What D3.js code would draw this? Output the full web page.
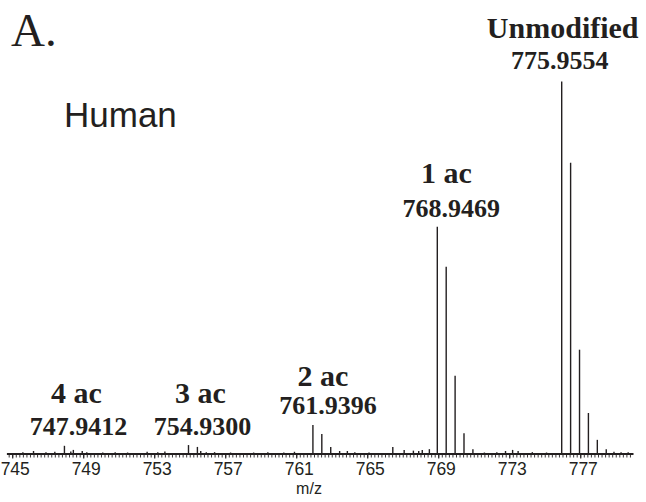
<!DOCTYPE html>
<html>
<head>
<meta charset="utf-8">
<script src="https://cdn.jsdelivr.net/npm/d3@7/dist/d3.min.js"></script>
<style>
  html, body { margin: 0; padding: 0; background: #fff; }
  svg { display: block; }
</style>
</head>
<body>
<svg id="chart" width="646" height="502"></svg>
<script>
// ---- data ----
const peakMz = [
  // 4 ac cluster
  747.9412, 748.443, 748.944,
  // 3 ac cluster
  754.9300, 755.432, 755.62, 755.933,
  // 2 ac cluster
  761.9396, 762.441, 762.943, 763.445,
  // 1 ac cluster
  768.9469, 769.448, 769.950, 770.451, 770.953,
  // unmodified cluster
  775.9554, 776.457, 776.959, 777.460, 777.962, 778.464,
  // noise
  745.6, 746.2, 746.9, 747.4, 748.3, 749.2, 750.1, 750.8, 751.5, 752.6, 753.2, 753.6,
  756.4, 757.3, 758.6, 759.4, 760.3, 760.9, 763.88, 764.3, 765.1,
  766.44, 767.08, 767.6, 767.9, 768.1, 768.5,
  771.6, 772.3, 772.79, 773.19, 773.5, 774.3, 775.1, 778.9, 779.3, 779.7
];
const peakIntensity = [
  2.2, 1.1, 0.8,
  2.4, 1.9, 0.8, 0.5,
  7.8, 5.4, 1.9, 0.8,
  61.0, 50.3, 21.0, 5.6, 1.3,
  100, 78.2, 28.0, 11.0, 3.8, 1.3,
  0.5, 0.8, 0.5, 0.6, 0.7, 0.5, 0.4, 0.5, 0.4, 0.6, 0.5, 0.7,
  0.5, 0.4, 0.4, 0.5, 0.4, 0.6, 0.8, 0.5, 0.4,
  1.9, 1.1, 0.9, 0.8, 1.1, 1.3,
  0.4, 0.5, 0.8, 1.1, 0.8, 0.5, 0.4, 0.6, 0.5, 0.5
];
const tickValues = [745, 749, 753, 757, 761, 765, 769, 773, 777];
const labelTitles = ["4 ac", "3 ac", "2 ac", "1 ac", "Unmodified"];
const labelMasses = ["747.9412", "754.9300", "761.9396", "768.9469", "775.9554"];
const labelMz = [747.9412, 754.9300, 761.9396, 768.9469, 775.9554];

// ---- layout ----
const ink = "#231f20";
const svg = d3.select("#chart");
const baseY = 454;
const x = d3.scaleLinear().domain([744.7, 780]).range([6.9, 633.5]);
const y = d3.scaleLinear().domain([0, 100]).range([baseY, 81.5]);

// peaks (sticks)
svg.append("g").selectAll("line")
  .data(peakMz.map((m, i) => ({ m, v: peakIntensity[i] })))
  .join("line")
  .attr("x1", d => x(d.m)).attr("x2", d => x(d.m))
  .attr("y1", y(0)).attr("y2", d => y(d.v))
  .attr("stroke", ink).attr("stroke-width", 1.4);

// axis with minor ticks
const minor = d3.range(744.8, 779.95, 0.2);
const axisG = svg.append("g").attr("transform", `translate(0,${baseY})`);
axisG.call(d3.axisBottom(x).tickValues(minor).tickSize(3.5).tickFormat(""))
  .call(g => g.select(".domain").remove())
  .selectAll("line").attr("stroke", ink).attr("stroke-width", 0.9);
const majorG = svg.append("g").attr("transform", `translate(0,${baseY})`);
majorG.call(d3.axisBottom(x).tickValues(tickValues).tickSize(4.5).tickPadding(4.5).tickFormat(d3.format("d")))
  .call(g => g.select(".domain").attr("stroke", ink).attr("stroke-width", 1.8)
      .attr("d", `M${x(744.7)},0H${x(780)}`))
  .call(g => g.selectAll("line").attr("stroke", ink).attr("stroke-width", 1.1))
  .call(g => g.selectAll("text")
      .attr("fill", ink)
      .attr("dx", 2.5)
      .style("font-family", "'Liberation Sans', Arial, sans-serif")
      .style("font-size", "17.5px"));

// axis title
svg.append("text").attr("x", 309).attr("y", 494).attr("text-anchor", "middle")
  .attr("fill", ink).style("font-family", "'Liberation Sans', Arial, sans-serif")
  .style("font-size", "16px").text("m/z");

// panel letter and species
svg.append("text").attr("x", 11).attr("y", 46)
  .attr("fill", ink).style("font-family", "'Liberation Serif', 'Times New Roman', serif")
  .style("font-size", "47px").text("A.");
svg.append("text").attr("x", 64).attr("y", 127)
  .attr("fill", ink).style("font-family", "'Liberation Sans', Arial, sans-serif")
  .style("font-size", "35px").text("Human");

// peak annotations
const titleDx = [12, 12, 10, 9, 1];
const titleY = [403, 403, 386, 183, 38];
const massDx = [14, 14, 15, 14, -2];
const massY = [435, 435, 414, 217, 69];
const ann = svg.append("g").attr("fill", ink)
  .style("font-family", "'Liberation Serif', 'Times New Roman', serif")
  .style("font-weight", "bold").attr("text-anchor", "middle");
labelTitles.forEach((t, i) => {
  ann.append("text").attr("x", x(labelMz[i]) + titleDx[i]).attr("y", titleY[i])
    .style("font-size", "30px").text(t);
  ann.append("text").attr("x", x(labelMz[i]) + massDx[i]).attr("y", massY[i])
    .style("font-size", "26px").text(labelMasses[i]);
});
</script>
</body>
</html>
